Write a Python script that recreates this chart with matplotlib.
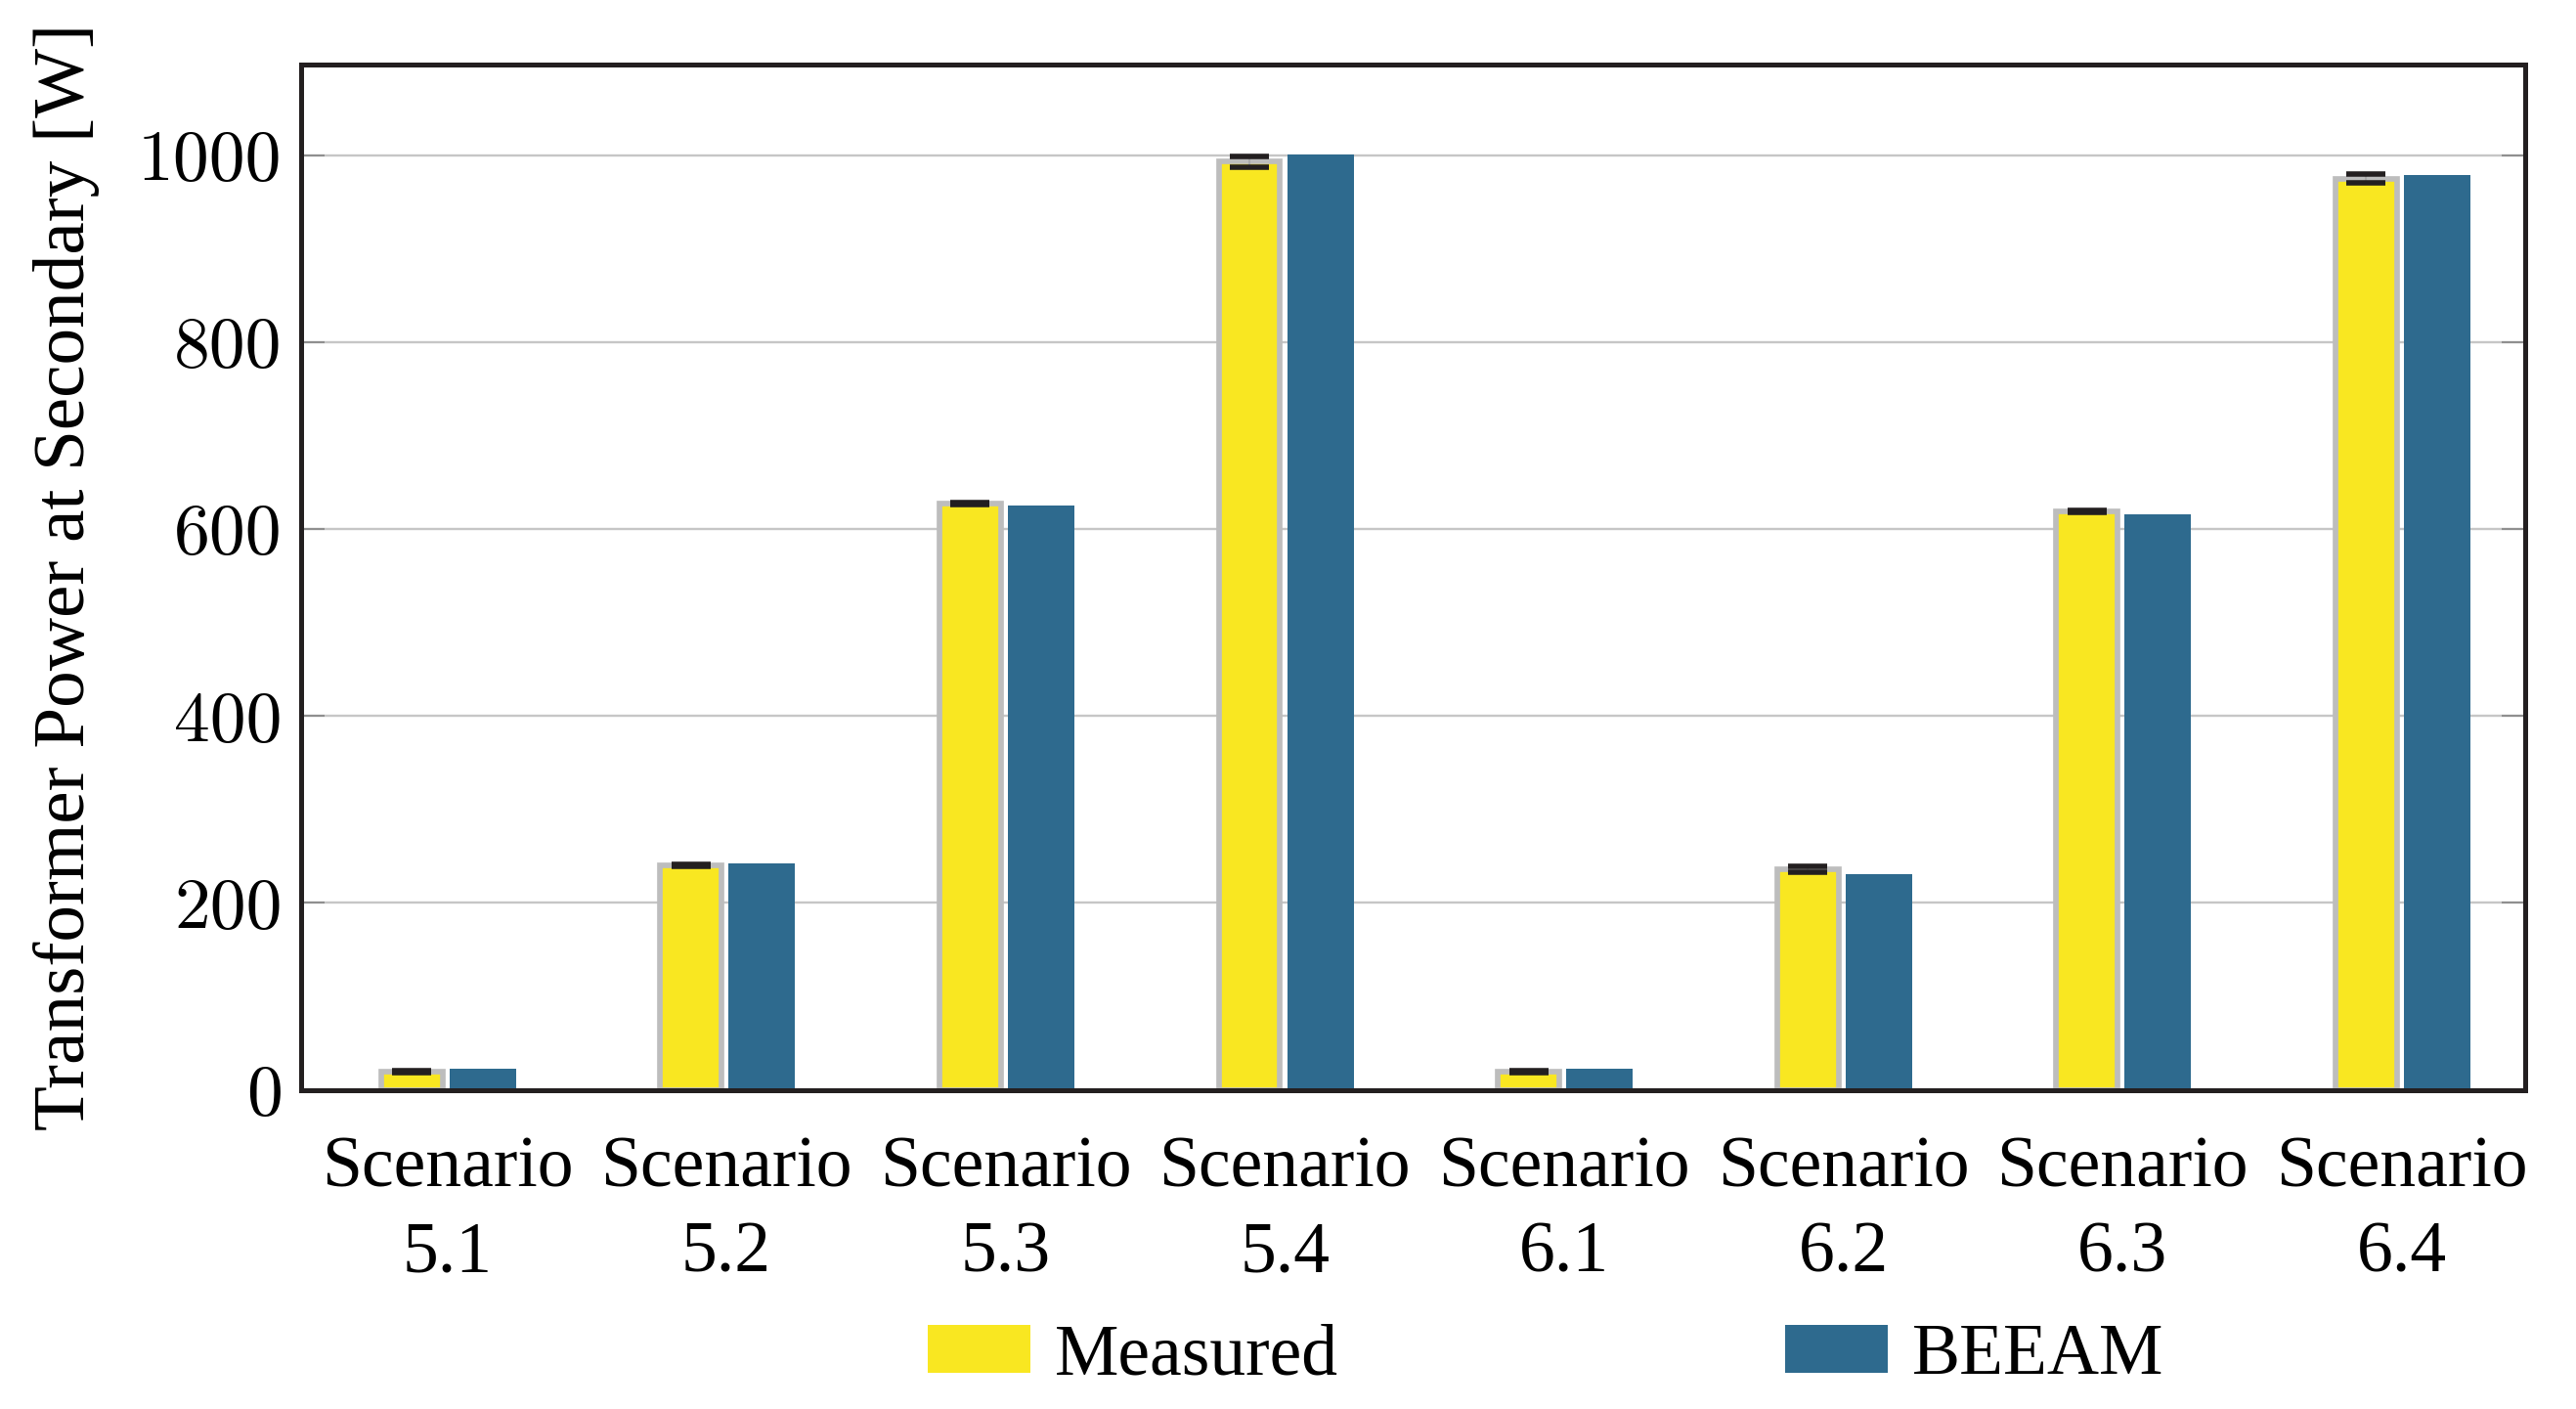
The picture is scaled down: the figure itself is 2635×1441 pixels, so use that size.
import matplotlib
matplotlib.use("Agg")
import matplotlib.pyplot as plt
from matplotlib.patches import Patch
import numpy as np

categories = ["Scenario\n5.1", "Scenario\n5.2", "Scenario\n5.3", "Scenario\n5.4",
              "Scenario\n6.1", "Scenario\n6.2", "Scenario\n6.3", "Scenario\n6.4"]
measured = [19.5, 240, 627, 993, 19, 236, 619, 975]
measured_err = [1, 1, 1, 5.5, 1, 3, 1, 4.7]
beeam = [22, 242, 625, 1001, 23, 231, 616, 979]
yticks = [0, 200, 400, 600, 800, 1000]
series_names = ["Measured", "BEEAM"]

YELLOW = "#f9e721"
BLUE = "#2e6a8e"
EDGE = "#bdbdbd"
FS = 53

fig = plt.figure(figsize=(26.35, 14.41), dpi=100)
ax = fig.add_axes([308/2635, 1-1114.5/1441, (2583-308)/2635, (1114.5-66)/1441])

x = np.arange(len(categories))
off = 0.127
ax.bar(x - off, measured, width=0.22, color=YELLOW, edgecolor=EDGE, linewidth=4.1,
       zorder=2)
ax.bar(x + off, beeam, width=0.238, color=BLUE, linewidth=0, zorder=2)
eb = ax.errorbar(x - off, measured, yerr=measured_err, fmt="none", ecolor="#a9a9a9",
                 elinewidth=1.5, capsize=14.4, capthick=4.0, zorder=3)
for cl in eb[1]:
    cl.set_markeredgecolor("#231f20")
    cl.set_markerfacecolor("#231f20")
    cl.set_zorder(4)

ax.set_xlim(-0.523, 7.442)
ax.set_ylim(0, 1097)
ax.set_yticks(yticks)
ax.set_yticklabels([str(v) for v in yticks], fontfamily="cmr10", fontsize=FS)
ax.set_xticks(x)
ax.set_xticklabels(categories, fontfamily="Liberation Serif", fontsize=FS, linespacing=1.38)
ax.tick_params(axis="x", length=0, pad=34)
ax.tick_params(axis="y", direction="in", length=17, width=1.5, color="#8f8f8f",
               right=True, pad=14)
ax.yaxis.grid(True, color="#c6c6c6", linewidth=1.7, zorder=0)
ax.set_axisbelow(True)
for s in ax.spines.values():
    s.set_linewidth(3.6)
    s.set_color("#231f20")
    s.set_zorder(5)

ax.set_ylabel("Transformer Power at Secondary [W]", fontfamily="Liberation Serif",
              fontsize=FS * 1.02, labelpad=28)

handles = [Patch(facecolor=YELLOW, edgecolor="none"), Patch(facecolor=BLUE, edgecolor="none")]
fig.legend(handles, series_names, loc="center", bbox_to_anchor=(0.600, 0.037), ncol=2,
           frameon=False, prop={"family": "Liberation Serif", "size": FS},
           handlelength=1.43, handleheight=0.66, handletextpad=0.34,
           columnspacing=6.2)

fig.savefig("out.png", dpi=100)
